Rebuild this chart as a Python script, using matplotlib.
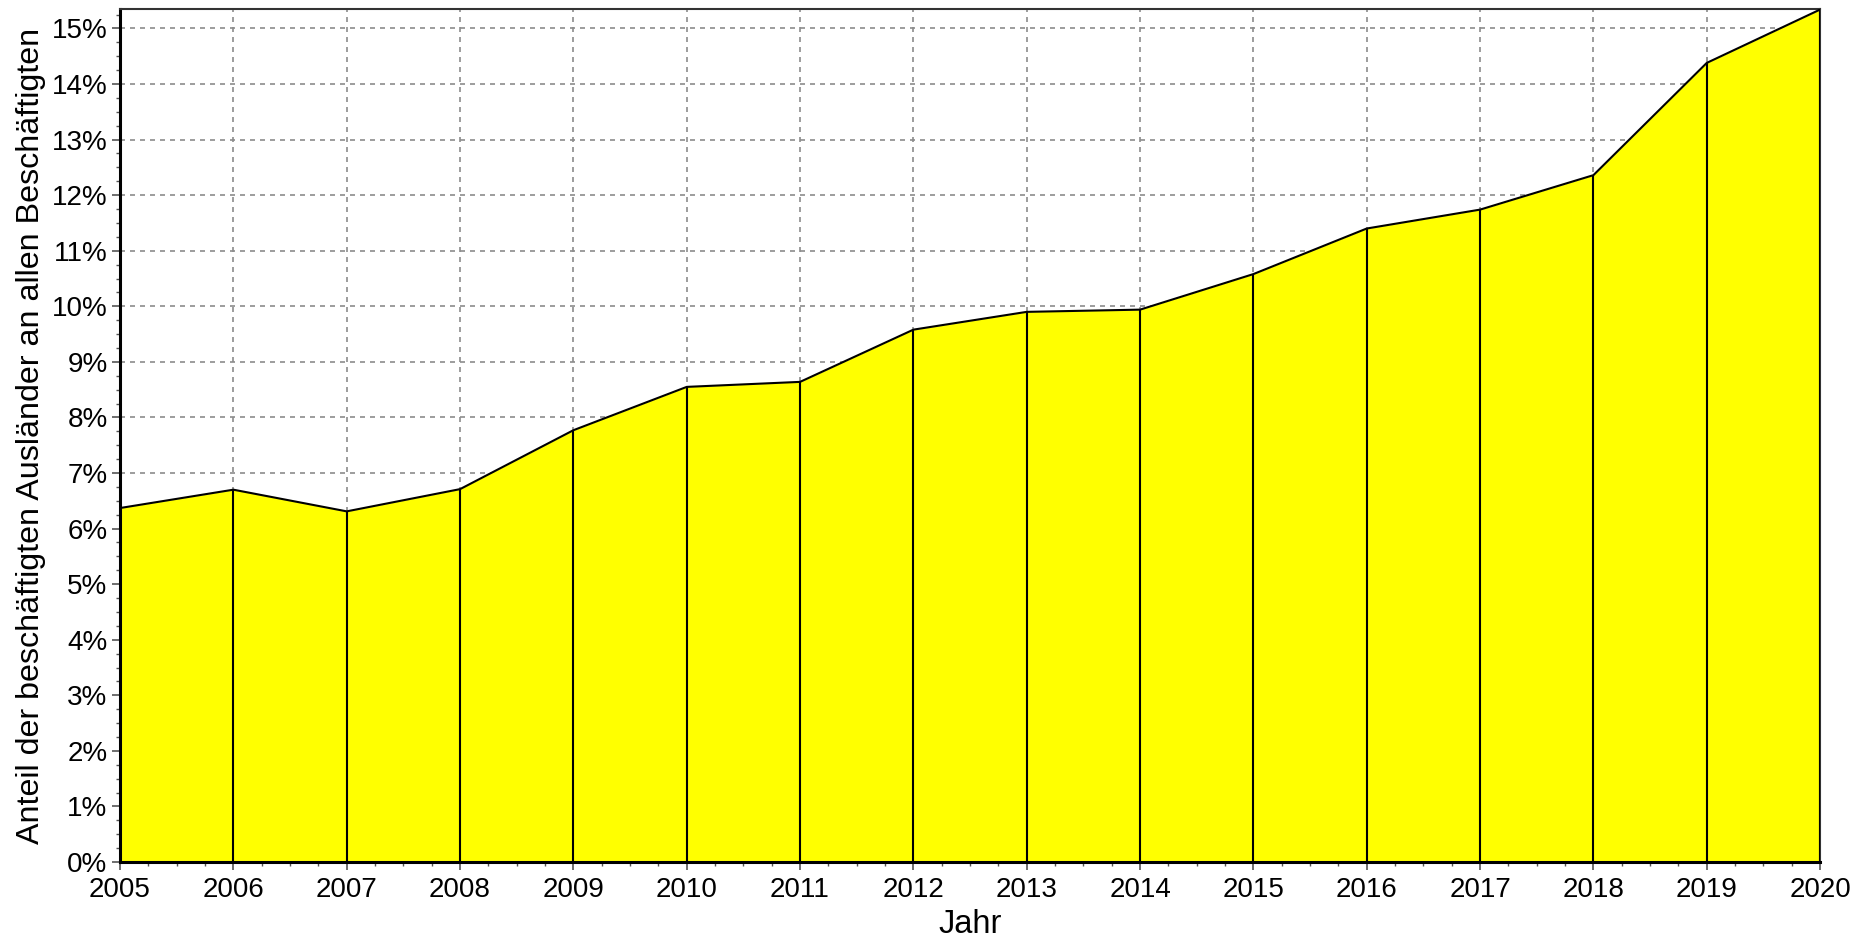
import matplotlib
matplotlib.use("Agg")
import matplotlib.pyplot as plt
from matplotlib.ticker import MultipleLocator, FuncFormatter

# Anteil ausländischer Beschäftigter (%)
jahre = [2005, 2006, 2007, 2008, 2009, 2010, 2011, 2012,
         2013, 2014, 2015, 2016, 2017, 2018, 2019, 2020]
anteil = [6.37, 6.70, 6.31, 6.71, 7.77, 8.55, 8.64, 9.58,
          9.90, 9.94, 10.58, 11.40, 11.74, 12.36, 14.38, 15.34]

plt.rcParams['font.family'] = ['Liberation Sans', 'DejaVu Sans']

fig = plt.figure(figsize=(18.7, 9.39), dpi=100)
ax = fig.add_axes([0.0642, 0.082, 0.9091, 0.9084])

# grid under the fill
ax.set_axisbelow(True)
ax.grid(True, which='major', color='#8c8c8c', linestyle=(0, (3, 3)), linewidth=1.2)

ax.fill_between(jahre, anteil, 0, color='#ffff00', linewidth=0, zorder=2)
ax.plot(jahre, anteil, color='black', linewidth=1.5, zorder=3)
ax.vlines(jahre, 0, anteil, color='black', linewidth=1.5, zorder=3)

ax.set_xlim(2005, 2020)
ax.set_ylim(0, 15.35)
ax.xaxis.set_major_locator(MultipleLocator(1))
ax.xaxis.set_minor_locator(MultipleLocator(0.25))
ax.yaxis.set_major_locator(MultipleLocator(1))
ax.yaxis.set_minor_locator(MultipleLocator(0.25))
ax.yaxis.set_major_formatter(FuncFormatter(lambda v, p: f"{v:.0f}%"))

ax.tick_params(which='major', length=6, width=1.2, color='#555555',
               labelsize=20, direction='out', pad=3)
ax.tick_params(axis='x', which='major', pad=5)
ax.tick_params(which='minor', length=3, width=1.0, color='#555555', direction='out')

for s in ['left', 'bottom']:
    ax.spines[s].set_linewidth(2.2)
    ax.spines[s].set_color('black')
for s in ['top', 'right']:
    ax.spines[s].set_linewidth(1.5)
    ax.spines[s].set_color('#333333')

ax.set_xlabel("Jahr", fontsize=23.5, labelpad=4)
ax.set_ylabel("Anteil der beschäftigten Ausländer an allen Beschäftigten",
              fontsize=23.2, labelpad=4)

fig.savefig("out.png", dpi=100)
